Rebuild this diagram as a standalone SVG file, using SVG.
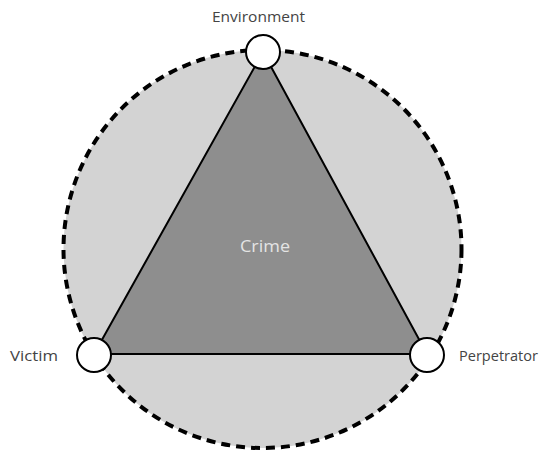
<svg xmlns="http://www.w3.org/2000/svg" width="540" height="454" viewBox="0 0 540 454">
<style>
.lbl{font-family:"Open Sans","Liberation Sans",sans-serif;font-size:15px;fill:#444}
.node{fill:#fff;stroke:#000;stroke-width:2}
</style>
<rect width="540" height="454" fill="#fff"/>
<g id="background">
<circle cx="262.5" cy="249" r="199" fill="#d3d3d3" stroke="#000" stroke-width="4" stroke-dasharray="9 6"/>
</g>
<g id="connectors">
<polygon points="263,52 94,354 427,354" fill="#8e8e8e" stroke="#000" stroke-width="2" stroke-linejoin="round"/>
</g>
<g id="crime"><text x="240" y="252" textLength="50" lengthAdjust="spacingAndGlyphs" style="font-family:'Open Sans','Liberation Sans',sans-serif;font-size:17px;fill:#e4e4e4">Crime</text></g>
<g id="environment">
<circle class="node" cx="263" cy="52" r="17"/>
<text class="lbl" x="212" y="22" textLength="93" lengthAdjust="spacingAndGlyphs">Environment</text>
</g>
<g id="victim">
<circle class="node" cx="94" cy="355" r="17"/>
<text class="lbl" x="10" y="361" textLength="48" lengthAdjust="spacingAndGlyphs">Victim</text>
</g>
<g id="perpetrator">
<circle class="node" cx="427" cy="355" r="17"/>
<text class="lbl" x="459" y="361" textLength="79" lengthAdjust="spacingAndGlyphs">Perpetrator</text>
</g>
</svg>
